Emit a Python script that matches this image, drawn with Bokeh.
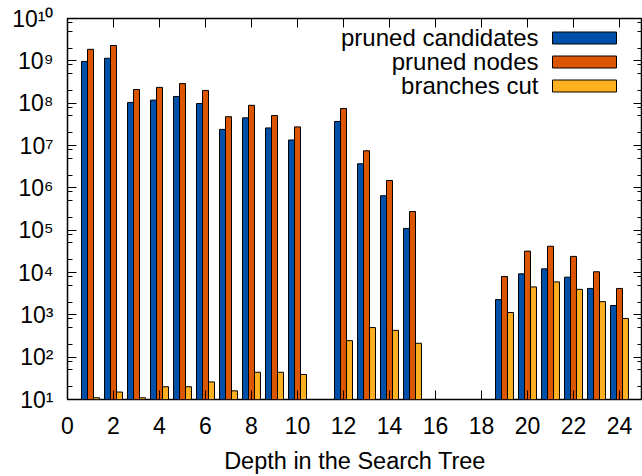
import math
from bokeh.plotting import figure
from bokeh.models import (Range1d, FixedTicker, LinearAxis, LogAxis, Label,
                          Legend, LegendItem, ColumnDataSource)
from bokeh.transform import dodge
from bokeh.embed import file_html
from bokeh.resources import INLINE

nan = float("nan")

# ---- data ----
depth = list(range(1, 25))
pruned_candidates = [9.7e8, 1.15e9, 1.04e8, 1.18e8, 1.44e8, 9.8e7, 2.4e7, 4.5e7,
                     2.6e7, 1.35e7, nan, 3.7e7, 3.7e6, 6.5e5, 1.1e5, nan, nan, nan,
                     2290, 9300, 12200, 7750, 4200, 1660]
pruned_nodes = [1.87e9, 2.3e9, 2.1e8, 2.36e8, 2.9e8, 2.0e8, 4.8e7, 8.9e7,
                5.1e7, 2.75e7, nan, 7.5e7, 7.5e6, 1.49e6, 2.76e5, nan, nan, nan,
                8050, 3.2e4, 4.17e4, 2.4e4, 1.04e4, 4200]
branches_cut = [11, 15, 11, 20, 20, 26, 16, 44, 44, 39, nan, 246, 500, 430, 213,
                nan, nan, nan, 1135, 4560, 6000, 4000, 2050, 820]
series_names = ["pruned candidates", "pruned nodes", "branches cut"]
x_ticks = list(range(0, 25, 2))
y_exponents = list(range(1, 11))
x_label = "Depth in the Search Tree"

colors = ["#0050aa", "#dc5500", "#ffb020"]
FONT = "Liberation Sans"
FS = "23px"

SUP = str.maketrans("0123456789", "\u2070\u00b9\u00b2\u00b3\u2074\u2075\u2076\u2077\u2078\u2079")

y_lo, y_hi = 10, 1e10
p = figure(width=642, height=476, x_range=Range1d(0, 25), y_range=Range1d(y_lo, y_hi),
           y_axis_type="log", output_backend="svg", toolbar_location=None,
           min_border_left=67, min_border_right=0, min_border_top=18,
           min_border_bottom=74)
p.xgrid.visible = False
p.ygrid.visible = False
p.outline_line_color = "black"
p.outline_line_width = 1.5
p.background_fill_color = "white"
p.border_fill_color = "white"

src = ColumnDataSource(dict(depth=depth, cand=pruned_candidates,
                            nodes=pruned_nodes, cut=branches_cut))
bw = 0.26
keys = ["cand", "nodes", "cut"]
offsets = [-bw, 0.0, bw]
renderers = []
for k, off, c in zip(keys, offsets, colors):
    r = p.vbar(x=dodge("depth", off, range=p.x_range), top=k, bottom=y_lo, width=bw,
               fill_color=c, line_color="black", line_width=1, source=src)
    renderers.append(r)

y_major = [10 ** e for e in y_exponents]
xt = FixedTicker(ticks=x_ticks, minor_ticks=[])
yt = FixedTicker(ticks=y_major,
                 minor_ticks=[m * 10 ** e for e in y_exponents[:-1] for m in (2, 5, 8)])


def style(ax):
    ax.axis_line_color = None
    ax.major_tick_in = 9
    ax.major_tick_out = 0
    ax.minor_tick_in = 5
    ax.minor_tick_out = 0
    ax.major_tick_line_color = "black"
    ax.minor_tick_line_color = "black"
    ax.major_tick_line_width = 1
    ax.minor_tick_line_width = 1


def hide_labels(ax, ticks):
    ax.major_label_overrides = {t: "" for t in ticks}
    ax.major_label_text_font_size = "2px"
    ax.major_label_standoff = 0


bx = p.xaxis[0]
bx.ticker = xt
style(bx)
bx.major_label_text_font = FONT
bx.major_label_text_font_size = FS
bx.major_label_text_color = "black"
bx.major_label_standoff = 17
bx.axis_label = x_label
bx.axis_label_text_font = FONT
bx.axis_label_text_font_size = "23.5px"
bx.axis_label_text_font_style = "normal"
bx.axis_label_text_color = "black"
bx.axis_label_standoff = 11

ly = p.yaxis[0]
ly.ticker = yt
style(ly)
ly.major_label_overrides = {10 ** e: "10" + str(e).translate(SUP) for e in y_exponents}
ly.major_label_text_font = FONT
ly.major_label_text_font_size = FS
ly.major_label_text_color = "black"
ly.major_label_standoff = 14

top_ax = LinearAxis(ticker=xt)
style(top_ax)
hide_labels(top_ax, x_ticks)
p.add_layout(top_ax, "above")

right_ax = LogAxis(ticker=yt)
style(right_ax)
hide_labels(right_ax, y_major)
p.add_layout(right_ax, "right")

# legend: swatches via Legend (drawn at 80% of glyph box), texts via Labels to the left
legend = Legend(items=[LegendItem(label=" ", renderers=[r]) for r in renderers],
                location=(477, 306.5), glyph_width=80, glyph_height=15,
                label_width=0, label_height=15, label_standoff=0,
                label_text_font_size="2px", spacing=9, padding=0, margin=0,
                border_line_color=None, background_fill_alpha=0)
p.add_layout(legend)

for i, name in enumerate(series_names):
    p.add_layout(Label(x=471, y=362 - 24 * i, x_units="screen", y_units="screen",
                       text=name, text_align="right", text_baseline="middle",
                       text_font=FONT, text_font_size="24px", text_color="black"))

open("out.html", "w").write(file_html(p, INLINE))
